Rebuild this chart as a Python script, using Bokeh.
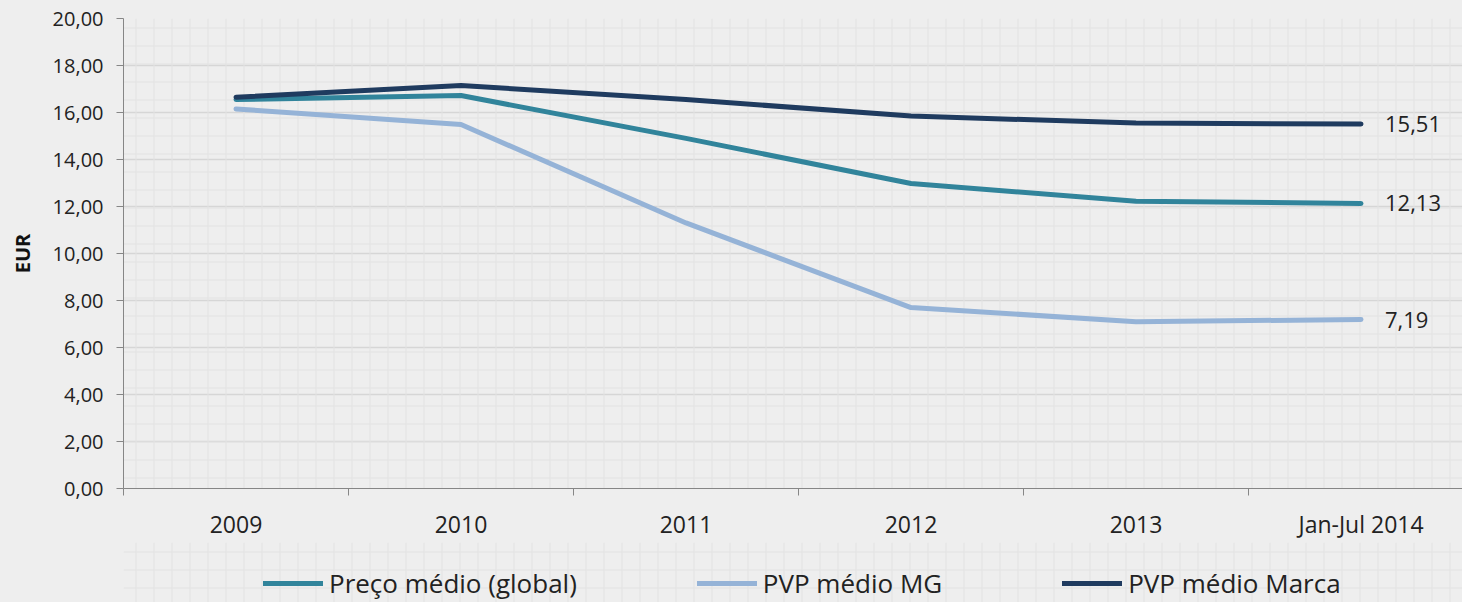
import numpy as np
from bokeh.plotting import figure
from bokeh.layouts import column
from bokeh.models import (FixedTicker, Legend, LegendItem, BoxAnnotation, Range1d,
                          ColumnDataSource, CustomJSTickFormatter)
from bokeh.core.properties import value
from bokeh.embed import file_html
from bokeh.resources import INLINE

categories = ["2009", "2010", "2011", "2012", "2013", "Jan-Jul 2014"]
preco_global = [16.55, 16.72, 14.90, 12.98, 12.22, 12.13]
pvp_mg = [16.15, 15.49, 11.30, 7.70, 7.10, 7.19]
pvp_marca = [16.65, 17.15, 16.55, 15.85, 15.55, 15.51]
end_labels = ["12,13", "7,19", "15,51"]
y_ticks = [0, 2, 4, 6, 8, 10, 12, 14, 16, 18, 20]

names = ["Preço médio (global)", "PVP médio MG", "PVP médio Marca"]
colors = ["#31849B", "#95B3D7", "#1F3B5F"]
series = [preco_global, pvp_mg, pvp_marca]

FONT = "Open Sans"
BG = "#EEEEEE"
xs = np.arange(len(categories)) + 0.5


def hatch():
    return BoxAnnotation(fill_alpha=0, line_alpha=0, hatch_pattern="+",
                         hatch_scale=18, hatch_color="#E2E2E2", hatch_weight=1,
                         level="underlay")


p = figure(width=1462, height=542, output_backend="svg", toolbar_location=None,
           x_range=Range1d(0, 5.951), y_range=Range1d(0, 20),
           min_border_left=123, min_border_top=18, min_border_right=0,
           min_border_bottom=54)
p.background_fill_color = BG
p.border_fill_color = BG
p.outline_line_color = None
p.add_layout(hatch())

# axes
p.yaxis.ticker = FixedTicker(ticks=y_ticks)
p.yaxis.formatter = CustomJSTickFormatter(code="return tick.toFixed(2).replace('.', ',');")
p.yaxis.major_label_text_font = FONT
p.yaxis.major_label_text_font_size = "20px"
p.yaxis.major_label_text_color = "#222222"
p.yaxis.axis_line_color = "#868686"
p.yaxis.major_tick_line_color = "#868686"
p.yaxis.major_tick_out = 7
p.yaxis.major_tick_in = 0
p.yaxis.minor_tick_line_color = None
p.yaxis.axis_label = "EUR"
p.yaxis.axis_label_text_font = FONT
p.yaxis.axis_label_text_font_style = "bold"
p.yaxis.axis_label_text_font_size = "20px"
p.yaxis.axis_label_text_color = "#111111"
p.yaxis.axis_label_standoff = 14
p.yaxis.major_label_standoff = 13

p.xaxis.ticker = FixedTicker(ticks=list(xs), minor_ticks=list(range(len(categories))))
p.xaxis.major_label_overrides = {float(x): c for x, c in zip(xs, categories)}
p.xaxis.major_label_text_font = FONT
p.xaxis.major_label_text_font_size = "23px"
p.xaxis.major_label_text_color = "#222222"
p.xaxis.major_tick_line_color = None
p.xaxis.minor_tick_line_color = "#868686"
p.xaxis.minor_tick_out = 7
p.xaxis.minor_tick_in = 0
p.xaxis.axis_line_color = "#868686"
p.xaxis.major_label_standoff = 12

p.xgrid.grid_line_color = None
p.ygrid.ticker = FixedTicker(ticks=y_ticks)
p.ygrid.grid_line_color = "#D6D6D6"
p.ygrid.grid_line_width = 1.5

for name, col, ys in zip(names, colors, series):
    p.line(xs, ys, line_color=col, line_width=5, line_cap="round", line_join="round")

src = ColumnDataSource(dict(x=[xs[-1]] * 3, y=[s[-1] for s in series], t=end_labels))
p.text("x", "y", text="t", source=src, x_offset=24, text_baseline="middle",
       text_font=value(FONT), text_font_size="22px", text_color="#222222")

# legend strip (its lines fall outside its ranges, so only the legend shows)
p2 = figure(width=1462, height=60, output_backend="svg", toolbar_location=None,
            x_axis_type=None, y_axis_type=None,
            x_range=Range1d(0, 1), y_range=Range1d(0, 1),
            min_border_left=123, min_border_right=0, min_border_top=0, min_border_bottom=0)
p2.background_fill_color = BG
p2.border_fill_color = BG
p2.outline_line_color = None
p2.grid.visible = False
p2.add_layout(hatch())

items = []
for name, col, ys in zip(names, colors, series):
    r = p2.line(xs, ys, line_color=col, line_width=5, line_cap="round")
    items.append(LegendItem(label=name, renderers=[r]))

legend = Legend(items=items, orientation="horizontal", location=(140, 1),
                background_fill_alpha=0, border_line_color=None,
                label_text_font=FONT, label_text_font_size="26px",
                label_text_color="#222222", glyph_width=60, glyph_height=20,
                label_standoff=6, spacing=120, padding=0, margin=0)
p2.add_layout(legend, "center")

layout = column(p, p2, spacing=0)
layout.styles = {"background-color": BG}
open("out.html", "w").write(file_html(layout, INLINE))
